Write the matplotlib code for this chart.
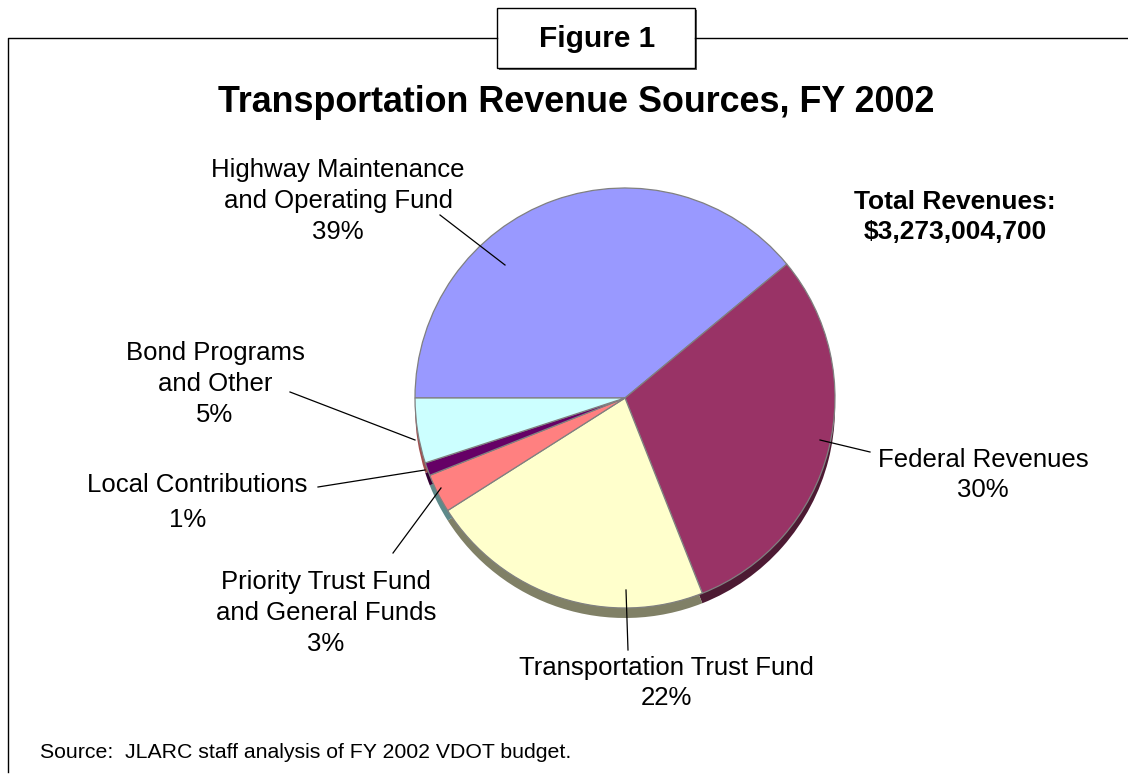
import matplotlib.pyplot as plt
from matplotlib.patches import Rectangle

plt.rcParams['font.family'] = ['Liberation Sans', 'DejaVu Sans']

# data
sources = ['Highway Maintenance\nand Operating Fund', 'Federal Revenues',
           'Transportation Trust Fund', 'Priority Trust Fund\nand General Funds',
           'Local Contributions', 'Bond Programs\nand Other']
shares = [39, 30, 22, 3, 1, 5]
colors = ['#9999FF', '#993366', '#FFFFCC', '#FF8080', '#660066', '#CCFFFF']
shadow_colors = ['#4D4D80', '#4D1A33', '#808066', '#5E8A8A', '#330033', '#A05050']
total_text = 'Total Revenues:\n$3,273,004,700'

W, H = 1128, 774
fig = plt.figure(figsize=(W / 100, H / 100), dpi=100)
ax = fig.add_axes([0, 0, 1, 1])

def Y(y):  # pixel row -> data y
    return H - y

cx, cy, r = 625, Y(398), 210

# depth / shadow of the pie
ax.pie(shares, center=(cx, cy - 10), radius=r, startangle=180, counterclock=False,
       colors=shadow_colors, wedgeprops=dict(linewidth=0))
# top face
ax.pie(shares, center=(cx, cy), radius=r, startangle=180, counterclock=False,
       colors=colors, wedgeprops=dict(edgecolor='#808080', linewidth=0.9))

ax.set_xlim(0, W)
ax.set_ylim(0, H)
ax.set_aspect('auto')
ax.axis('off')

# frame and "Figure 1" box
ax.plot([8, 8, 497], [Y(772), Y(38), Y(38)], color='black', lw=1)
ax.plot([695, W], [Y(38), Y(38)], color='black', lw=1)
ax.add_patch(Rectangle((499, Y(70)), 198, 60, facecolor='#606060', edgecolor='none'))
ax.add_patch(Rectangle((497, Y(68)), 198, 60, facecolor='white', edgecolor='black', lw=1))
ax.text(597, Y(39), 'Figure 1', ha='center', va='center', fontsize=21.5, fontweight='bold')

ax.text(576, Y(103), 'Transportation Revenue Sources, FY 2002', ha='center', va='center',
        fontsize=25.8, fontweight='bold')

lab = dict(ha='center', va='center', fontsize=18.5, linespacing=1.36)
pct = [f'{s}%' for s in shares]

# labels with leader lines
ax.text(338, Y(201), sources[0] + '\n' + pct[0], **lab)
ax.plot([440, 505], [Y(215), Y(265)], color='black', lw=0.9)

ax.text(983, Y(475), sources[1] + '\n' + pct[1], **lab)
ax.plot([820, 870], [Y(440), Y(452)], color='black', lw=0.9)

ax.text(666, Y(683), sources[2] + '\n' + pct[2], **lab)
ax.plot([626, 628], [Y(590), Y(650)], color='black', lw=0.9)

ax.text(326, Y(613), sources[3] + '\n' + pct[3], **lab)
ax.plot([393, 441], [Y(553), Y(488)], color='black', lw=0.9)

ax.text(197, Y(485), sources[4], **lab)
ax.text(188, Y(520), pct[4], **lab)
ax.plot([318, 425], [Y(487), Y(470)], color='black', lw=0.9)

ax.text(215, Y(384), sources[5] + '\n' + pct[5], **lab)
ax.plot([290, 415], [Y(392), Y(440)], color='black', lw=0.9)

ax.text(955, Y(217), total_text, ha='center', va='center', fontsize=19,
        fontweight='bold', linespacing=1.36)

ax.text(40, Y(752), 'Source:  JLARC staff analysis of FY 2002 VDOT budget.',
        ha='left', va='center', fontsize=15.3)

fig.savefig('out.png', dpi=100)
